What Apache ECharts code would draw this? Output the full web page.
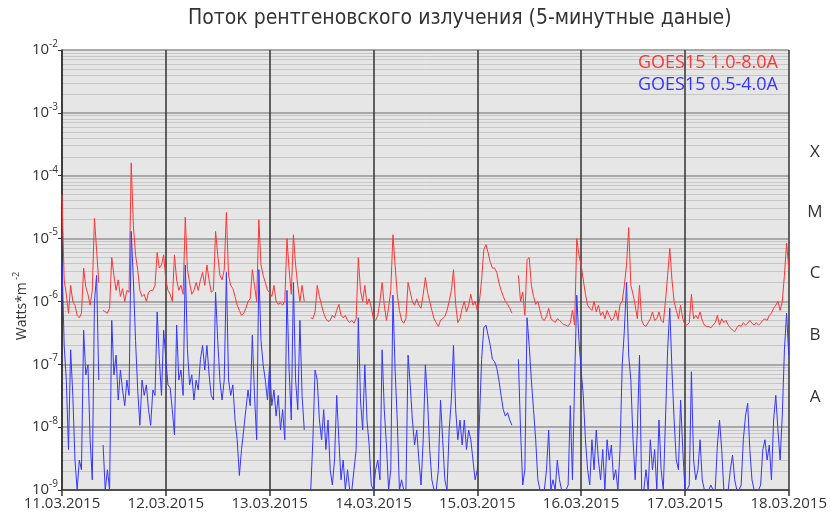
<!DOCTYPE html>
<html><head><meta charset="utf-8">
<script src="https://cdn.jsdelivr.net/npm/echarts@6/dist/echarts.min.js"></script>
<style>html,body{margin:0;padding:0;background:#fff}#c{width:830px;height:517px}</style>
</head><body><div id="c"></div><script>
const titleText = 'Поток рентгеновского излучения (5-минутные даные)';
const dayLabels = ['11.03.2015','12.03.2015','13.03.2015','14.03.2015','15.03.2015','16.03.2015','17.03.2015','18.03.2015'];
const stepHours = 0.5;
const seriesNames = ['GOES15 1.0-8.0A', 'GOES15 0.5-4.0A'];
const seriesColors = ['#ff3535', '#3535ff'];
const classLetters = ['X','M','C','B','A'];
const classCenters = [2.4e-4, 2.6e-5, 2.8e-6, 2.95e-7, 3e-8];

// GOES15 1.0-8.0 A, 30-minute samples from 11.03.2015 00:00
const goesLong = [
5e-5,2.2e-6,1.3e-6,6.5e-7,1.8e-6,1e-6,8.7e-7,6e-7,5.5e-7,6.5e-7,
3.4e-6,1.7e-6,1.3e-6,8.7e-7,1.5e-6,2.1e-5,6.6e-6,2e-6,null,7.2e-7,
6.8e-7,6.5e-7,7.8e-7,5e-6,2.6e-6,1.5e-6,2.2e-6,1.2e-6,1.6e-6,1e-6,
1.5e-6,1.4e-6,1.6e-4,1.6e-5,5.5e-6,3.2e-6,1.5e-6,1.2e-6,1.3e-6,1e-6,
1.4e-6,1.5e-6,1.5e-6,1.8e-6,6e-6,3.4e-6,3.8e-6,5.5e-6,
2.2e-6,1.5e-6,1.3e-6,1e-6,5.5e-6,2.2e-6,1.5e-6,1.8e-6,1.3e-6,2.2e-5,
3.2e-6,2e-6,1.3e-6,1.5e-6,2e-6,1.5e-6,2.2e-6,2.9e-6,1.8e-6,3.8e-6,
2.2e-6,1.4e-6,1.5e-6,1.3e-5,5.5e-6,2.6e-6,2.2e-6,3.2e-6,2.6e-5,2.6e-6,
1.8e-6,1.6e-6,1.2e-6,8.7e-7,7.2e-7,6e-7,6.5e-7,7.8e-7,1e-6,1.1e-6,
3.2e-6,1.8e-6,1e-6,2e-5,3.8e-6,2.6e-6,2e-6,1.5e-6,
1.4e-6,1.2e-6,1.8e-6,1e-6,9e-7,9.5e-7,8.7e-7,1e-6,1e-5,3.2e-6,
1.3e-6,1.15e-5,3.8e-6,1.8e-6,1e-6,1.8e-6,1e-6,null,null,5.5e-7,
5.3e-7,6.8e-7,1.8e-6,1.2e-6,8.7e-7,6.5e-7,5.3e-7,4.8e-7,5e-7,6e-7,
5.5e-7,7.2e-7,9e-7,6e-7,5.5e-7,6e-7,5e-7,4.6e-7,5e-7,4.5e-7,
5.3e-7,5e-6,1.5e-6,1e-6,1.8e-6,9e-7,1.1e-6,8e-7,
5.3e-7,5e-7,6e-7,1e-6,2e-6,8.7e-7,5e-7,8e-7,1.5e-6,1.15e-5,
3.8e-6,1.3e-6,7.2e-7,5e-7,4.5e-7,5.3e-7,2e-6,1.4e-6,1e-6,8.7e-7,
1.1e-6,8.7e-7,7.8e-7,1.3e-6,2.4e-6,1.4e-6,1e-6,7.2e-7,5.3e-7,4.6e-7,
4e-7,5e-7,5.3e-7,5.8e-7,7.2e-7,1e-6,1.5e-6,3.2e-6,9e-7,4.6e-7,
5.3e-7,7.8e-7,1e-6,6.8e-7,8.7e-7,1.3e-6,8.7e-7,1e-6,
7.2e-7,1e-6,2.2e-6,6.6e-6,8e-6,6e-6,4.2e-6,3.4e-6,3.4e-6,2.9e-6,
2e-6,1.5e-6,1.2e-6,1e-6,9e-7,7.8e-7,6.5e-7,null,null,2.6e-6,
1e-6,1.4e-6,6e-7,4.6e-6,5e-6,1.8e-6,1.2e-6,9e-7,1e-6,7.2e-7,
5.3e-7,5e-7,5.8e-7,7.8e-7,5.3e-7,5e-7,4.6e-7,5.3e-7,5e-7,4.6e-7,
4.3e-7,4.2e-7,4e-7,4.6e-7,7.2e-7,4.2e-7,1e-5,5.5e-6,
3.8e-6,2.2e-6,1.3e-6,8.7e-7,7.8e-7,7.2e-7,1e-6,6.8e-7,8.7e-7,6e-7,
6.8e-7,5.3e-7,7.2e-7,6e-7,5e-7,5.3e-7,7.2e-7,5e-7,9e-7,1e-6,
1.8e-6,3.8e-6,1.5e-5,1.8e-6,1.3e-6,8.7e-7,5.3e-7,1.8e-6,5e-7,4.2e-7,
4e-7,4.6e-7,5.3e-7,6.8e-7,5e-7,5.3e-7,6.8e-7,5e-7,4.6e-7,1e-6,
2.6e-6,7e-6,2.2e-6,1e-6,7.2e-7,5.3e-7,8.7e-7,5.3e-7,
4.2e-7,4.2e-7,4.6e-7,1.3e-6,5.3e-7,6e-7,5.3e-7,6.8e-7,5e-7,4.2e-7,
4e-7,4e-7,3.8e-7,4.2e-7,4.6e-7,6e-7,4.2e-7,5.3e-7,4.6e-7,5e-7,
4.2e-7,3.8e-7,3.5e-7,3.3e-7,3.8e-7,4.2e-7,4e-7,4.6e-7,4.2e-7,4.5e-7,
5e-7,4.5e-7,4.2e-7,4.6e-7,4.2e-7,4.5e-7,5e-7,5.3e-7,5e-7,6e-7,
6.5e-7,7.8e-7,8.7e-7,1e-6,7.2e-7,1e-6,2.6e-6,8.5e-6,3.4e-6
];

// GOES15 0.5-4.0 A, 30-minute samples from 11.03.2015 00:00
const goesShort = [
4.5e-6,2e-7,5.6e-8,4.4e-9,1.7e-7,3.2e-8,3e-9,1e-9,3e-9,2.1e-9,
3.5e-7,6.8e-8,9.8e-8,6.3e-9,1.45e-9,1e-6,2.6e-6,5.6e-8,null,5.2e-9,
1e-9,2.1e-9,1e-9,5e-7,6.8e-8,1.4e-7,2.7e-8,8.1e-8,3.9e-8,2.2e-8,
5.6e-8,3.2e-8,1.3e-5,2.2e-6,2.4e-7,3.9e-8,1.07e-8,5.6e-8,3.2e-8,4.7e-8,
1.9e-8,1.07e-8,3.9e-8,3.2e-8,6.8e-7,1.2e-7,3.2e-8,3.5e-7,
1.2e-7,4.7e-8,4.2e-8,1.9e-8,7.5e-9,4.2e-7,5.6e-8,8.1e-8,3.2e-8,3.8e-6,
1.7e-7,4.7e-8,6.8e-8,2.7e-8,5.6e-8,3.9e-8,1.2e-7,2e-7,8.1e-8,2e-7,
6.8e-8,3.2e-8,2.7e-8,1.4e-6,2.4e-7,5.6e-8,2.7e-8,5.6e-8,2.9e-6,5.6e-8,
3.2e-8,4.7e-8,1.3e-8,6.3e-9,1.7e-9,4.4e-9,9e-9,1.9e-8,3.9e-8,2.2e-8,
2.9e-7,3.2e-8,6.3e-9,3.2e-6,2.4e-7,9.8e-8,5.6e-8,2.7e-8,
9.8e-8,2.2e-8,3.9e-8,1.5e-8,3.2e-8,9e-9,1.9e-8,6.3e-9,1.5e-6,8.1e-8,
1.3e-8,2e-6,5.6e-8,1.9e-8,5e-7,3.2e-8,9e-9,null,null,1e-9,
6.3e-9,8.1e-8,5.6e-8,1.3e-8,6.3e-9,1.9e-8,4.4e-9,1.3e-8,2.1e-9,1.2e-9,
3e-9,3.2e-8,6.3e-9,1.45e-9,3e-9,1e-9,2.1e-9,1e-9,1e-9,2.1e-9,
4.4e-9,5.5e-7,2.7e-8,9e-9,9.8e-8,1.3e-8,5.2e-9,1.2e-9,
1e-9,2.1e-9,3e-9,1.45e-9,1.7e-7,1.9e-8,5.2e-9,1e-9,2.1e-9,1.26e-6,
8.1e-8,1.3e-8,1e-9,1.45e-9,1e-9,1e-9,1.4e-7,4.7e-8,1.3e-8,5.2e-9,
9e-9,3e-9,1.2e-9,6.3e-9,9.8e-8,2.7e-8,4.4e-9,1.45e-9,1e-9,1e-9,
2.1e-9,2.7e-8,6.3e-9,1.45e-9,1e-9,9e-9,2.7e-8,2e-7,1.9e-8,6.3e-9,
1.3e-8,5.2e-9,1.3e-8,4.4e-9,9e-9,6.3e-9,3e-9,1.45e-9,
2.1e-9,1.3e-8,1.2e-7,3.8e-7,4.2e-7,2.9e-7,2e-7,1.2e-7,1.1e-7,8.8e-8,
5.6e-8,3.2e-8,1.9e-8,1.5e-8,1.7e-8,1.3e-8,1.07e-8,null,null,1.2e-7,
9e-9,1.2e-9,2.1e-9,5.5e-7,2e-7,5.6e-8,1.9e-8,6.3e-9,1.45e-9,1e-9,
1e-9,1e-9,2.1e-9,9e-9,1e-9,1.45e-9,1e-9,3e-9,1.45e-9,1e-9,
1e-9,1e-9,1.2e-9,2.2e-8,1.45e-9,5.6e-8,1.26e-6,2.4e-7,
8.1e-8,3.2e-8,6.3e-9,2.1e-9,1.2e-9,6.3e-9,2.1e-9,9e-9,3e-9,1.45e-9,
4.4e-9,1e-9,6.3e-9,3e-9,5.2e-9,1.45e-9,2.1e-9,1e-9,4.4e-9,9.8e-8,
3.5e-7,2e-6,1.4e-7,5.6e-8,6.3e-9,1.45e-9,9e-9,1.4e-7,1e-9,1e-9,
2.1e-9,1e-9,6.3e-9,2.1e-9,4.4e-9,1e-9,1.3e-8,2.1e-9,1e-9,1.3e-8,
1.7e-7,7.8e-7,8.1e-8,1.3e-8,3e-9,2.1e-9,2.7e-8,4.4e-9,
1e-9,1e-9,1.2e-9,7.6e-8,3e-9,1.45e-9,2.1e-9,6.3e-9,1.45e-9,1e-9,
1e-9,1e-9,1.2e-9,1e-9,1e-9,5.2e-9,1.3e-8,4.4e-9,1e-9,1e-9,
1e-9,2.1e-9,3.6e-9,1.45e-9,1e-9,1e-9,1.2e-9,6.3e-9,1.5e-8,2.4e-8,
4.4e-9,1.45e-9,1e-9,1e-9,1e-9,1.2e-9,4.4e-9,6.3e-9,3e-9,5.2e-9,
1.45e-9,1.3e-8,3.2e-8,9e-9,3e-9,1.5e-8,1.7e-7,6.5e-7,1.4e-7
];

const FONT = "'Open Sans', 'DejaVu Sans', sans-serif";
const chart = echarts.init(document.getElementById('c'), null, {renderer: 'canvas'});
const toPairs = arr => arr.map((v, i) => [i * stepHours, v]);

chart.setOption({
  animation: false,
  backgroundColor: '#ffffff',
  title: {
    text: titleText, left: 183, top: 3,
    textStyle: {fontFamily: "'DejaVu Sans Condensed', 'Liberation Sans Narrow', 'DejaVu Sans', sans-serif", fontSize: 21, fontWeight: 'normal', color: '#333'}
  },
  legend: {
    orient: 'vertical', right: 52, top: 54, padding: 0, itemGap: 4,
    icon: 'none', itemWidth: 0, itemHeight: 10, selectedMode: false,
    textStyle: {fontFamily: FONT, fontSize: 18, padding: 0},
    data: [
      {name: seriesNames[0], textStyle: {color: seriesColors[0]}},
      {name: seriesNames[1], textStyle: {color: seriesColors[1]}}
    ]
  },
  grid: {left: 62, right: 38, top: 50, bottom: 27, show: true, backgroundColor: '#e6e6e6', borderWidth: 0},
  xAxis: {
    type: 'value', min: 0, max: 168, interval: 24,
    axisLine: {show: true, lineStyle: {color: '#333', width: 1.5}},
    axisTick: {show: true, length: 6, lineStyle: {color: '#333', width: 1.5}},
    axisLabel: {fontFamily: FONT, fontSize: 15, color: '#333', margin: 6,
      formatter: v => dayLabels[Math.round(v / 24)]},
    splitLine: {show: true, lineStyle: {color: '#333', width: 1.5}}
  },
  yAxis: {
    type: 'log', logBase: 10, min: 1e-9, max: 1e-2,
    axisLine: {show: true, lineStyle: {color: '#333', width: 1.5}},
    axisTick: {show: true, length: 4, lineStyle: {color: '#333'}},
    minorTick: {show: false, splitNumber: 9},
    minorSplitLine: {show: true, lineStyle: {color: '#c6c6c6', width: 1}},
    axisLabel: {
      margin: 4,
      formatter: v => '{b|10}{s|' + Math.round(Math.log10(v)) + '}',
      rich: {
        b: {fontFamily: FONT, fontSize: 15, color: '#333', lineHeight: 22},
        s: {fontFamily: FONT, fontSize: 10, color: '#333', verticalAlign: 'top', lineHeight: 12}
      }
    },
    splitLine: {show: true, lineStyle: {color: '#a8a8a8', width: 2}}
  },
  series: [
    {
      name: seriesNames[0], type: 'line', data: toPairs(goesLong), z: 3,
      showSymbol: false, symbol: 'none',
      lineStyle: {color: seriesColors[0], width: 1}, itemStyle: {color: seriesColors[0]}
    },
    {
      name: seriesNames[1], type: 'line', data: toPairs(goesShort), z: 3,
      showSymbol: false, symbol: 'none',
      lineStyle: {color: seriesColors[1], width: 1}, itemStyle: {color: seriesColors[1]}
    }
  ]
});

const letterGraphics = classLetters.map((t, k) => ({
  type: 'text', x: 815, y: chart.convertToPixel({yAxisIndex: 0}, classCenters[k]),
  style: {text: t, fontFamily: FONT, fontSize: 17, fill: '#333', align: 'center', verticalAlign: 'middle'}
}));
letterGraphics.push({
  type: 'text', x: 22, y: 306, rotation: Math.PI / 2,
  style: {text: '{a|Watts*m}{s| -2}', align: 'center', verticalAlign: 'middle',
    rich: {a: {fontFamily: FONT, fontSize: 14, fill: '#333', lineHeight: 20},
           s: {fontFamily: FONT, fontSize: 9, fill: '#333', verticalAlign: 'top', lineHeight: 10}}}
});
chart.setOption({graphic: letterGraphics});
</script></body></html>
